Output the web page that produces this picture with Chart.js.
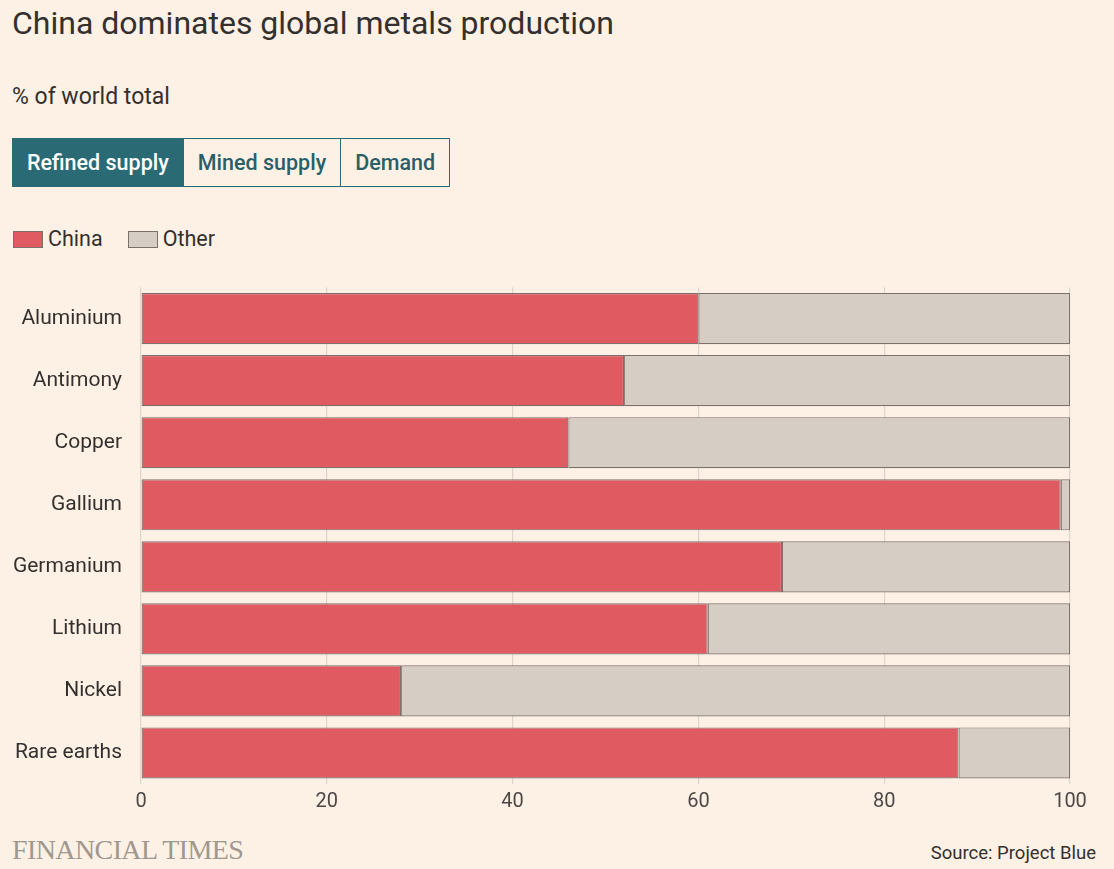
<!DOCTYPE html>
<html>
<head>
<meta charset="utf-8">
<script src="https://cdn.jsdelivr.net/npm/chart.js@4/dist/chart.umd.min.js"></script>
<style>
  html, body { margin: 0; padding: 0; background: #fdf1e6; }
  body { width: 1114px; height: 869px; position: relative; overflow: hidden; font-family: Roboto, "Noto Sans", sans-serif; color: #33302e; }
  .abs { position: absolute; white-space: nowrap; }
  #title { left: 12px; top: 3px; font-size: 32px; line-height: 40px; color: #33302e; }
  #subtitle { left: 12px; top: 82px; font-size: 23px; line-height: 30px; color: #33302e; }
  #tabs { left: 12px; top: 138px; display: flex; border: 1.5px solid #2a6a74; }
  .tab { font-size: 21.5px; font-weight: 500; line-height: 47px; padding: 0 14px; color: #2a5f68; border-left: 1.5px solid #2a6a74; }
  .tab:first-child { border-left: none; background: #2a6a74; color: #ffffff; }
  #legend { left: 13px; top: 225px; display: flex; align-items: center; font-size: 21.5px; line-height: 28px; }
  .sw { width: 28px; height: 15px; border: 1.5px solid #7d706a; margin-right: 5px; }
  .item { display: flex; align-items: center; margin-right: 25px; }
  #chartwrap { left: 0; top: 256px; width: 1114px; height: 574px; }
  #ft { left: 12px; top: 834px; font-family: "Liberation Serif", "DejaVu Serif", serif; font-size: 28px; color: #a0978f; letter-spacing: -0.6px; }
  #source { right: 18px; top: 842px; font-size: 18.5px; color: #33302e; }
</style>
</head>
<body>
<div id="title" class="abs">China dominates global metals production</div>
<div id="subtitle" class="abs">% of world total</div>
<div id="tabs" class="abs">
  <div class="tab">Refined supply</div>
  <div class="tab">Mined supply</div>
  <div class="tab">Demand</div>
</div>
<div id="legend" class="abs">
  <div class="item"><div class="sw" style="background:#e05a61"></div>China</div>
  <div class="item"><div class="sw" style="background:#d6cdc5"></div>Other</div>
</div>
<div id="chartwrap" class="abs"><canvas id="c"></canvas></div>
<div id="ft" class="abs">FINANCIAL TIMES</div>
<div id="source" class="abs">Source: Project Blue</div>
<script>
const categories = ["Aluminium", "Antimony", "Copper", "Gallium", "Germanium", "Lithium", "Nickel", "Rare earths"];
const chinaValues = [60, 52, 46, 99, 69, 61, 28, 88];
const otherValues = [40, 48, 54, 1, 31, 39, 72, 12];
const xTicks = [0, 20, 40, 60, 80, 100];

const ctx = document.getElementById('c');
new Chart(ctx, {
  type: 'bar',
  data: {
    labels: categories,
    datasets: [
      { label: 'China', data: chinaValues, backgroundColor: '#e05a61', borderColor: '#7d706a', borderWidth: 1.2, borderSkipped: false },
      { label: 'Other', data: otherValues, backgroundColor: '#d6cdc5', borderColor: '#7d706a', borderWidth: 1.2, borderSkipped: false }
    ]
  },
  options: {
    indexAxis: 'y',
    responsive: true,
    maintainAspectRatio: false,
    animation: false,
    layout: { padding: { left: 0, right: 44, top: 6, bottom: 0 } },
    datasets: { bar: { categoryPercentage: 1.0, barPercentage: 0.825 } },
    plugins: { legend: { display: false }, tooltip: { enabled: false } },
    scales: {
      x: {
        stacked: true,
        min: 0, max: 100,
        afterBuildTicks: (s) => { s.ticks = xTicks.map(v => ({ value: v })); },
        grid: { color: '#ddd4cb', lineWidth: 1.2, drawTicks: false },
        border: { display: false },
        ticks: { color: '#4d4845', font: { family: 'Roboto', size: 20 }, padding: 6 },
        afterFit: (s) => { s.height = 46; }
      },
      y: {
        stacked: true,
        grid: { display: false, drawTicks: false },
        border: { display: false },
        ticks: { color: '#33302e', font: { family: 'Roboto', size: 21 }, padding: 19 },
        afterFit: (s) => { s.width = 141; }
      }
    }
  }
});
</script>
</body>
</html>
